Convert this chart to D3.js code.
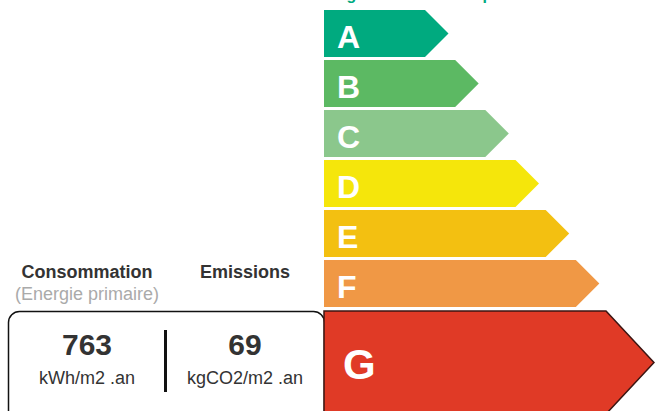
<!DOCTYPE html>
<html>
<head>
<meta charset="utf-8">
<script src="https://cdn.jsdelivr.net/npm/d3@7"></script>
<style>
  html,body{margin:0;padding:0;background:#fff;overflow:hidden;}
  svg{display:block;font-family:"Liberation Sans",Arial,sans-serif;}
</style>
</head>
<body>
<svg id="dpe" width="655" height="411" viewBox="0 0 655 411"></svg>
<script>
// energy classes, colours, and the current reading
const classes = ['A','B','C','D','E','F','G'];
const classColors = ['#00aa7f','#5cb963','#8bc78c','#f5e60b','#f3c011','#f09845','#e03a26'];
const activeClass = 'G';
const consumption = 763;
const consumptionUnit = 'kWh/m2 .an';
const emissions = 69;
const emissionsUnit = 'kgCO2/m2 .an';

const svg = d3.select('#dpe');

// rows step 50px from top; active row is taller
const y = d3.scaleBand().domain(classes.slice(0,6)).range([10,307]).paddingInner(0.06).paddingOuter(0);
const len = d3.scaleLinear().domain([0,6]).range([101,282]);
const x0 = 324;

// left info block (drawn first so the active arrow sits over its right edge)
const info = svg.append('g');
info.append('rect').attr('x',8.5).attr('y',311.5).attr('width',316).attr('height',130)
  .attr('rx',11).attr('fill','#fff').attr('stroke','#111').attr('stroke-width',1.5);
info.append('line').attr('x1',165.5).attr('x2',165.5).attr('y1',330).attr('y2',392)
  .attr('stroke','#111').attr('stroke-width',3);

const cols = [
  {cx:87, head:'Consommation', sub:'(Energie primaire)', value:consumption, unit:consumptionUnit},
  {cx:245, head:'Emissions', sub:'', value:emissions, unit:emissionsUnit}
];
cols.forEach(d=>{
  info.append('text').attr('x',d.cx).attr('y',278).attr('text-anchor','middle')
    .attr('font-size',18).attr('font-weight','bold').attr('fill','#333').text(d.head);
  if(d.sub) info.append('text').attr('x',d.cx).attr('y',300).attr('text-anchor','middle')
    .attr('font-size',18).attr('fill','#aaa').text(d.sub);
  info.append('text').attr('x',d.cx).attr('y',355).attr('text-anchor','middle')
    .attr('font-size',30).attr('font-weight','bold').attr('fill','#333').text(d.value);
  info.append('text').attr('x',d.cx).attr('y',384).attr('text-anchor','middle')
    .attr('font-size',18).attr('fill','#333').text(d.unit);
});

// title (mostly cut off at top, as in the source)
svg.append('text').attr('x',327).attr('y',-0.5).attr('font-size',16).attr('font-weight','bold')
  .attr('fill','#00aa7f').text('Logement économe performant');

const rows = svg.append('g');
classes.forEach((c,i)=>{
  const active = c===activeClass;
  const top = active ? 311 : y(c);
  const h = active ? 103 : y.bandwidth();
  const w = len(i);
  const tip = active ? 48 : h/2;
  const pts = [[x0,top],[x0+w,top],[x0+w+tip,top+h/2],[x0+w,top+h],[x0,top+h]];
  rows.append('path')
    .attr('d', d3.line()(pts)+'Z')
    .attr('fill', classColors[i])
    .attr('stroke', active ? '#3b1512' : 'none')
    .attr('stroke-width', active ? 1.5 : 0);
  rows.append('text')
    .attr('x', active ? 343 : 337)
    .attr('y', active ? 379 : top + h/2 + 14.5)
    .attr('font-size', active ? 42 : 32)
    .attr('font-weight','bold')
    .attr('fill','#fff')
    .text(c);
});
</script>
</body>
</html>
